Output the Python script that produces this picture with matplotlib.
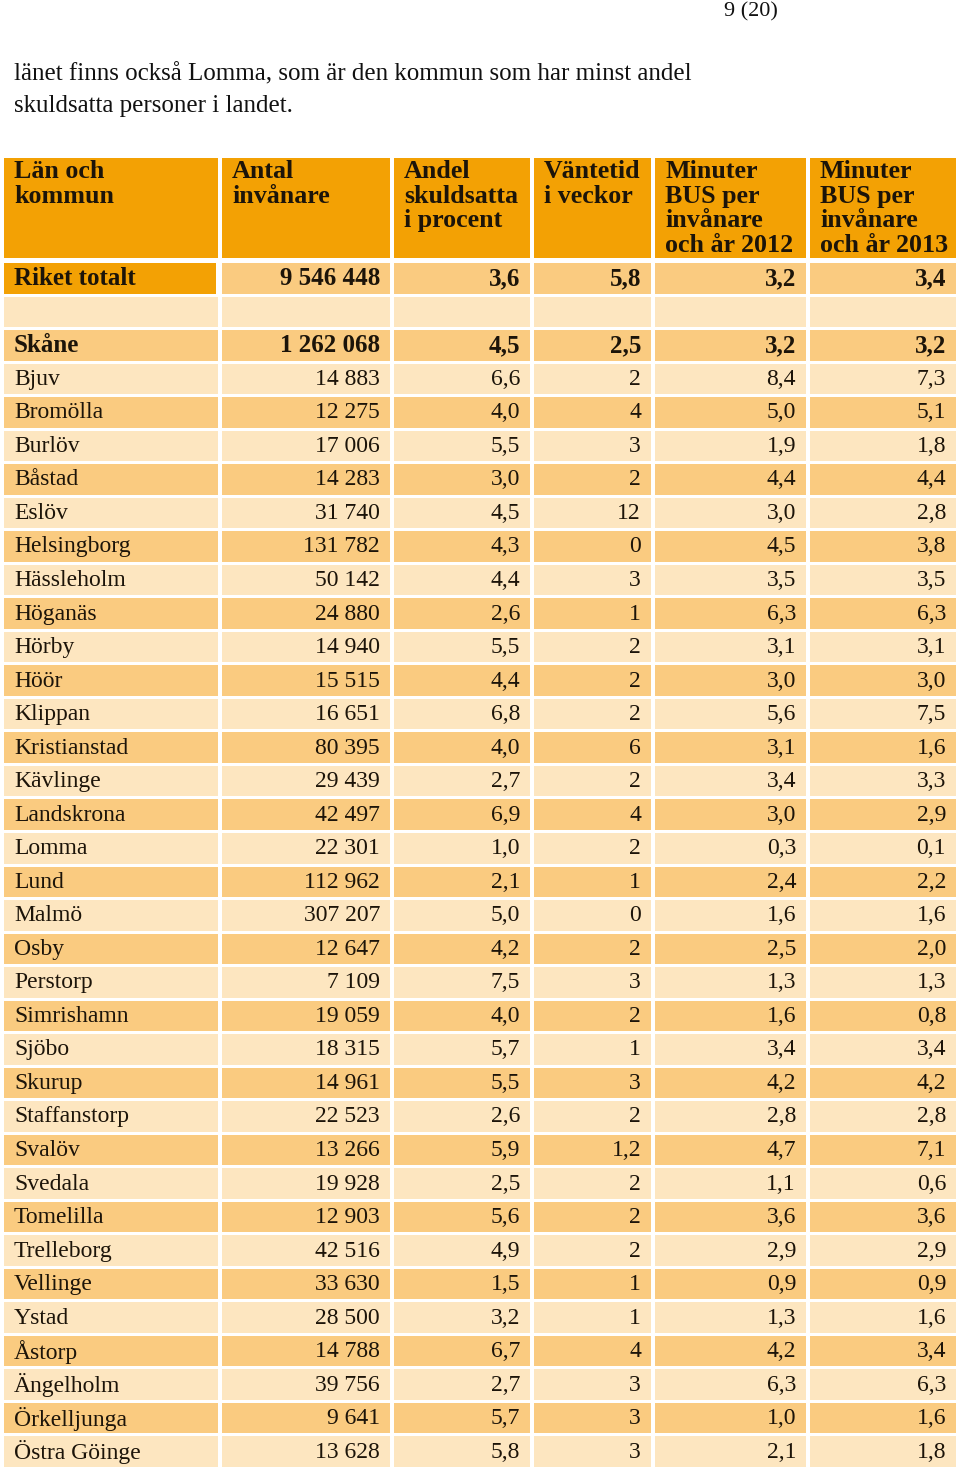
import matplotlib.pyplot as plt
from matplotlib.patches import Rectangle

headers = ["Län och\nkommun", "Antal\ninvånare", "Andel\nskuldsatta\ni procent",
           "Väntetid\ni veckor", "Minuter\nBUS per\ninvånare\noch år 2012",
           "Minuter\nBUS per\ninvånare\noch år 2013"]

total_name = "Riket totalt"
total_vals = [9546448, 3.6, 5.8, 3.2, 3.4]

county_name = "Skåne"
county_vals = [1262068, 4.5, 2.5, 3.2, 3.2]

kommuner = ["Bjuv", "Bromölla", "Burlöv", "Båstad", "Eslöv", "Helsingborg",
            "Hässleholm", "Höganäs", "Hörby", "Höör", "Klippan", "Kristianstad",
            "Kävlinge", "Landskrona", "Lomma", "Lund", "Malmö", "Osby",
            "Perstorp", "Simrishamn", "Sjöbo", "Skurup", "Staffanstorp",
            "Svalöv", "Svedala", "Tomelilla", "Trelleborg", "Vellinge", "Ystad",
            "Åstorp", "Ängelholm", "Örkelljunga", "Östra Göinge"]
invanare = [14883, 12275, 17006, 14283, 31740, 131782, 50142, 24880, 14940,
            15515, 16651, 80395, 29439, 42497, 22301, 112962, 307207, 12647,
            7109, 19059, 18315, 14961, 22523, 13266, 19928, 12903, 42516,
            33630, 28500, 14788, 39756, 9641, 13628]
andel = [6.6, 4.0, 5.5, 3.0, 4.5, 4.3, 4.4, 2.6, 5.5, 4.4, 6.8, 4.0, 2.7, 6.9,
         1.0, 2.1, 5.0, 4.2, 7.5, 4.0, 5.7, 5.5, 2.6, 5.9, 2.5, 5.6, 4.9, 1.5,
         3.2, 6.7, 2.7, 5.7, 5.8]
vantetid = [2, 4, 3, 2, 12, 0, 3, 1, 2, 2, 2, 6, 2, 4, 2, 1, 0, 2, 3, 2, 1, 3,
            2, 1.2, 2, 2, 2, 1, 1, 4, 3, 3, 3]
bus_2012 = [8.4, 5.0, 1.9, 4.4, 3.0, 4.5, 3.5, 6.3, 3.1, 3.0, 5.6, 3.1, 3.4,
            3.0, 0.3, 2.4, 1.6, 2.5, 1.3, 1.6, 3.4, 4.2, 2.8, 4.7, 1.1, 3.6,
            2.9, 0.9, 1.3, 4.2, 6.3, 1.0, 2.1]
bus_2013 = [7.3, 5.1, 1.8, 4.4, 2.8, 3.8, 3.5, 6.3, 3.1, 3.0, 7.5, 1.6, 3.3,
            2.9, 0.1, 2.2, 1.6, 2.0, 1.3, 0.8, 3.4, 4.2, 2.8, 7.1, 0.6, 3.6,
            2.9, 0.9, 1.6, 3.4, 6.3, 1.6, 1.8]

page_no = "9 (20)"
intro = ("länet finns också Lomma, som är den kommun som har minst andel\n"
         "skuldsatta personer i landet.")

ORANGE = "#F3A104"
MID = "#FACB80"
LIGHT = "#FDE6C0"
TXT = "#1c1409"
SERIF = ["Liberation Serif", "DejaVu Serif"]


def fmt_int(v):
    return f"{v:,}".replace(",", " ")


def fmt_dec(v):
    return f"{v:.1f}".replace(".", ",")


def fmt_week(v):
    return str(int(v)) if float(v).is_integer() else fmt_dec(v)


def cells(name, vals):
    return [name, fmt_int(vals[0]), fmt_dec(vals[1]), fmt_week(vals[2]),
            fmt_dec(vals[3]), fmt_dec(vals[4])]


def main():
    fig = plt.figure(figsize=(9.6, 14.75), dpi=100)
    ax = fig.add_axes([0, 0, 1, 1])
    ax.set_xlim(0, 960)
    ax.set_ylim(1475, 0)
    ax.axis("off")

    col_left = [4, 222, 394, 534, 655, 810]
    col_right = [218, 390, 530, 651, 806, 956]

    ax.text(724, 12, page_no, fontsize=16, family=SERIF, va="center", color="#111")
    ax.text(14, 90, intro, fontsize=18, family=SERIF, va="center",
            linespacing=1.58, color="#111")

    # header
    for j, h in enumerate(headers):
        ax.add_patch(Rectangle((col_left[j], 158), col_right[j] - col_left[j], 100,
                               color=ORANGE, lw=0))
        ax.text(col_left[j] + 10, 160, h, fontsize=18.7, family=SERIF,
                weight="bold", va="top", ha="left", linespacing=1.09, color=TXT)

    rows = [cells(total_name, total_vals), None, cells(county_name, county_vals)]
    for i in range(len(kommuner)):
        rows.append(cells(kommuner[i], [invanare[i], andel[i], vantetid[i],
                                        bus_2012[i], bus_2013[i]]))

    top0 = 263.0
    pitch = (1470 - top0) / len(rows)
    for i, row in enumerate(rows):
        top = top0 + i * pitch
        fill = MID if i % 2 == 0 else LIGHT
        bold = i in (0, 2)
        for j in range(6):
            c = fill
            right = col_right[j]
            if i == 0 and j == 0:
                c = ORANGE
                right = 216
            ax.add_patch(Rectangle((col_left[j], top), right - col_left[j],
                                   pitch - 3, color=c, lw=0))
            if row is None:
                continue
            yc = top + pitch / 2 - 1
            size = 18 if bold else 17
            if j == 0:
                ax.text(14, yc, row[j], fontsize=size, family=SERIF, va="center",
                        ha="left", color=TXT, weight="bold" if bold else "normal")
            else:
                ax.text(col_right[j] - 10, yc, row[j], fontsize=size, family=SERIF,
                        va="center", ha="right", color=TXT,
                        weight="bold" if bold else "normal")

    fig.savefig("out.png", dpi=100, facecolor="white")


if __name__ == "__main__":
    main()
